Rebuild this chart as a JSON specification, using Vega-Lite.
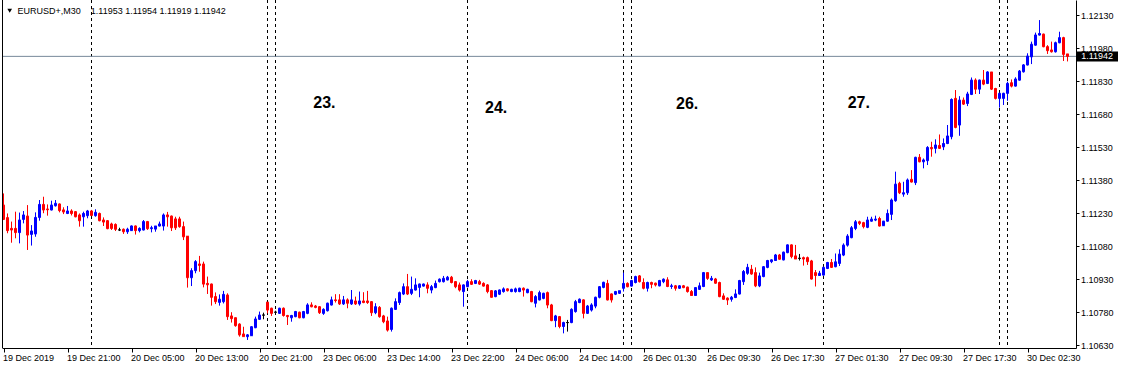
{
"$schema": "https://vega.github.io/schema/vega-lite/v6.json",
"width": 1074, "height": 348,
"autosize": {"type": "none"},
"padding": {"left": 2, "top": 0, "right": 46, "bottom": 21},
"background": "white",
"config": {"view": {"stroke": null}, "font": "Liberation Sans", "axis": {"labelOverlap": false, "labelFlush": false}},
"datasets": {
"one": [{}],
"bars": [
{"i":0,"o":1.11266,"h":1.11319,"l":1.11198,"c":1.11201},
{"i":1,"o":1.11209,"h":1.11228,"l":1.11138,"c":1.11150},
{"i":2,"o":1.11160,"h":1.11191,"l":1.11095,"c":1.11153},
{"i":3,"o":1.11160,"h":1.11236,"l":1.11115,"c":1.11141},
{"i":4,"o":1.11141,"h":1.11232,"l":1.11092,"c":1.11198},
{"i":5,"o":1.11201,"h":1.11239,"l":1.11183,"c":1.11221},
{"i":6,"o":1.11216,"h":1.11266,"l":1.11062,"c":1.11130},
{"i":7,"o":1.11133,"h":1.11175,"l":1.11082,"c":1.11148},
{"i":8,"o":1.11135,"h":1.11233,"l":1.11122,"c":1.11210},
{"i":9,"o":1.11210,"h":1.11289,"l":1.11195,"c":1.11269},
{"i":10,"o":1.11269,"h":1.11304,"l":1.11229,"c":1.11244},
{"i":11,"o":1.11248,"h":1.11269,"l":1.11218,"c":1.11245},
{"i":12,"o":1.11244,"h":1.11286,"l":1.11241,"c":1.11266},
{"i":13,"o":1.11263,"h":1.11289,"l":1.11259,"c":1.11274},
{"i":14,"o":1.11271,"h":1.11274,"l":1.11233,"c":1.11241},
{"i":15,"o":1.11244,"h":1.11256,"l":1.11225,"c":1.11235},
{"i":16,"o":1.11228,"h":1.11262,"l":1.11225,"c":1.11239},
{"i":17,"o":1.11239,"h":1.11247,"l":1.11219,"c":1.11228},
{"i":18,"o":1.11236,"h":1.11239,"l":1.11210,"c":1.11213},
{"i":19,"o":1.11221,"h":1.11228,"l":1.11168,"c":1.11195},
{"i":20,"o":1.11213,"h":1.11236,"l":1.11168,"c":1.11228},
{"i":21,"o":1.11218,"h":1.11244,"l":1.11206,"c":1.11239},
{"i":22,"o":1.11239,"h":1.11244,"l":1.11216,"c":1.11219},
{"i":23,"o":1.11218,"h":1.11247,"l":1.11213,"c":1.11233},
{"i":24,"o":1.11228,"h":1.11232,"l":1.11192,"c":1.11195},
{"i":25,"o":1.11198,"h":1.11210,"l":1.11171,"c":1.11189},
{"i":26,"o":1.11195,"h":1.11198,"l":1.11156,"c":1.11159},
{"i":27,"o":1.11180,"h":1.11186,"l":1.11153,"c":1.11160},
{"i":28,"o":1.11178,"h":1.11183,"l":1.11148,"c":1.11156},
{"i":29,"o":1.11153,"h":1.11163,"l":1.11148,"c":1.11153},
{"i":30,"o":1.11156,"h":1.11160,"l":1.11135,"c":1.11145},
{"i":31,"o":1.11145,"h":1.11163,"l":1.11135,"c":1.11156},
{"i":32,"o":1.11150,"h":1.11174,"l":1.11148,"c":1.11171},
{"i":33,"o":1.11171,"h":1.11174,"l":1.11132,"c":1.11150},
{"i":34,"o":1.11150,"h":1.11165,"l":1.11142,"c":1.11160},
{"i":35,"o":1.11153,"h":1.11198,"l":1.11150,"c":1.11191},
{"i":36,"o":1.11191,"h":1.11194,"l":1.11153,"c":1.11159},
{"i":37,"o":1.11159,"h":1.11172,"l":1.11142,"c":1.11163},
{"i":38,"o":1.11157,"h":1.11172,"l":1.11145,"c":1.11171},
{"i":39,"o":1.11171,"h":1.11191,"l":1.11168,"c":1.11180},
{"i":40,"o":1.11171,"h":1.11228,"l":1.11150,"c":1.11221},
{"i":41,"o":1.11221,"h":1.11235,"l":1.11168,"c":1.11213},
{"i":42,"o":1.11216,"h":1.11219,"l":1.11148,"c":1.11163},
{"i":43,"o":1.11203,"h":1.11213,"l":1.11153,"c":1.11163},
{"i":44,"o":1.11203,"h":1.11213,"l":1.11163,"c":1.11168},
{"i":45,"o":1.11168,"h":1.11191,"l":1.11107,"c":1.11122},
{"i":46,"o":1.11125,"h":1.11125,"l":1.10891,"c":1.10936},
{"i":47,"o":1.10936,"h":1.10979,"l":1.10898,"c":1.10968},
{"i":48,"o":1.10968,"h":1.11016,"l":1.10956,"c":1.11009},
{"i":49,"o":1.10998,"h":1.11035,"l":1.10963,"c":1.10992},
{"i":50,"o":1.10998,"h":1.11009,"l":1.10892,"c":1.10907},
{"i":51,"o":1.10910,"h":1.10941,"l":1.10862,"c":1.10904},
{"i":52,"o":1.10907,"h":1.10910,"l":1.10809,"c":1.10847},
{"i":53,"o":1.10850,"h":1.10869,"l":1.10816,"c":1.10827},
{"i":54,"o":1.10824,"h":1.10860,"l":1.10809,"c":1.10838},
{"i":55,"o":1.10827,"h":1.10876,"l":1.10819,"c":1.10860},
{"i":56,"o":1.10857,"h":1.10865,"l":1.10744,"c":1.10759},
{"i":57,"o":1.10762,"h":1.10779,"l":1.10732,"c":1.10750},
{"i":58,"o":1.10754,"h":1.10756,"l":1.10713,"c":1.10718},
{"i":59,"o":1.10725,"h":1.10729,"l":1.10668,"c":1.10676},
{"i":60,"o":1.10680,"h":1.10713,"l":1.10668,"c":1.10668},
{"i":61,"o":1.10668,"h":1.10680,"l":1.10653,"c":1.10676},
{"i":62,"o":1.10672,"h":1.10716,"l":1.10671,"c":1.10713},
{"i":63,"o":1.10709,"h":1.10759,"l":1.10706,"c":1.10748},
{"i":64,"o":1.10747,"h":1.10782,"l":1.10744,"c":1.10766},
{"i":65,"o":1.10766,"h":1.10777,"l":1.10747,"c":1.10766},
{"i":66,"o":1.10825,"h":1.10825,"l":1.10774,"c":1.10789},
{"i":67,"o":1.10797,"h":1.10800,"l":1.10762,"c":1.10774},
{"i":68,"o":1.10779,"h":1.10786,"l":1.10771,"c":1.10779},
{"i":69,"o":1.10774,"h":1.10800,"l":1.10771,"c":1.10797},
{"i":70,"o":1.10797,"h":1.10801,"l":1.10759,"c":1.10764},
{"i":71,"o":1.10764,"h":1.10767,"l":1.10721,"c":1.10759},
{"i":72,"o":1.10754,"h":1.10767,"l":1.10736,"c":1.10764},
{"i":73,"o":1.10759,"h":1.10785,"l":1.10756,"c":1.10782},
{"i":74,"o":1.10779,"h":1.10782,"l":1.10751,"c":1.10754},
{"i":75,"o":1.10754,"h":1.10785,"l":1.10751,"c":1.10782},
{"i":76,"o":1.10774,"h":1.10820,"l":1.10770,"c":1.10812},
{"i":77,"o":1.10812,"h":1.10824,"l":1.10801,"c":1.10804},
{"i":78,"o":1.10807,"h":1.10812,"l":1.10797,"c":1.10801},
{"i":79,"o":1.10804,"h":1.10807,"l":1.10771,"c":1.10777},
{"i":80,"o":1.10774,"h":1.10797,"l":1.10767,"c":1.10792},
{"i":81,"o":1.10786,"h":1.10823,"l":1.10782,"c":1.10820},
{"i":82,"o":1.10812,"h":1.10850,"l":1.10809,"c":1.10835},
{"i":83,"o":1.10835,"h":1.10861,"l":1.10823,"c":1.10832},
{"i":84,"o":1.10835,"h":1.10861,"l":1.10812,"c":1.10817},
{"i":85,"o":1.10817,"h":1.10853,"l":1.10812,"c":1.10835},
{"i":86,"o":1.10835,"h":1.10842,"l":1.10797,"c":1.10820},
{"i":87,"o":1.10817,"h":1.10880,"l":1.10812,"c":1.10835},
{"i":88,"o":1.10830,"h":1.10850,"l":1.10812,"c":1.10817},
{"i":89,"o":1.10817,"h":1.10873,"l":1.10809,"c":1.10830},
{"i":90,"o":1.10830,"h":1.10870,"l":1.10820,"c":1.10823},
{"i":91,"o":1.10830,"h":1.10876,"l":1.10817,"c":1.10823},
{"i":92,"o":1.10827,"h":1.10830,"l":1.10762,"c":1.10777},
{"i":93,"o":1.10777,"h":1.10820,"l":1.10770,"c":1.10804},
{"i":94,"o":1.10801,"h":1.10807,"l":1.10754,"c":1.10759},
{"i":95,"o":1.10762,"h":1.10767,"l":1.10729,"c":1.10736},
{"i":96,"o":1.10739,"h":1.10759,"l":1.10691,"c":1.10698},
{"i":97,"o":1.10701,"h":1.10801,"l":1.10691,"c":1.10797},
{"i":98,"o":1.10792,"h":1.10842,"l":1.10789,"c":1.10827},
{"i":99,"o":1.10823,"h":1.10873,"l":1.10812,"c":1.10868},
{"i":100,"o":1.10862,"h":1.10910,"l":1.10857,"c":1.10895},
{"i":101,"o":1.10895,"h":1.10953,"l":1.10857,"c":1.10862},
{"i":102,"o":1.10865,"h":1.10941,"l":1.10857,"c":1.10883},
{"i":103,"o":1.10880,"h":1.10933,"l":1.10877,"c":1.10903},
{"i":104,"o":1.10892,"h":1.10910,"l":1.10847,"c":1.10907},
{"i":105,"o":1.10898,"h":1.10910,"l":1.10895,"c":1.10907},
{"i":106,"o":1.10903,"h":1.10915,"l":1.10865,"c":1.10888},
{"i":107,"o":1.10880,"h":1.10903,"l":1.10865,"c":1.10895},
{"i":108,"o":1.10891,"h":1.10923,"l":1.10888,"c":1.10910},
{"i":109,"o":1.10918,"h":1.10933,"l":1.10914,"c":1.10929},
{"i":110,"o":1.10918,"h":1.10944,"l":1.10914,"c":1.10933},
{"i":111,"o":1.10926,"h":1.10944,"l":1.10923,"c":1.10938},
{"i":112,"o":1.10938,"h":1.10944,"l":1.10910,"c":1.10914},
{"i":113,"o":1.10918,"h":1.10921,"l":1.10888,"c":1.10895},
{"i":114,"o":1.10903,"h":1.10914,"l":1.10873,"c":1.10880},
{"i":115,"o":1.10873,"h":1.10906,"l":1.10804,"c":1.10903},
{"i":116,"o":1.10895,"h":1.10926,"l":1.10892,"c":1.10918},
{"i":117,"o":1.10918,"h":1.10929,"l":1.10903,"c":1.10906},
{"i":118,"o":1.10910,"h":1.10926,"l":1.10907,"c":1.10923},
{"i":119,"o":1.10918,"h":1.10926,"l":1.10903,"c":1.10907},
{"i":120,"o":1.10910,"h":1.10915,"l":1.10895,"c":1.10898},
{"i":121,"o":1.10903,"h":1.10907,"l":1.10865,"c":1.10873},
{"i":122,"o":1.10877,"h":1.10880,"l":1.10845,"c":1.10847},
{"i":123,"o":1.10850,"h":1.10880,"l":1.10847,"c":1.10876},
{"i":124,"o":1.10861,"h":1.10883,"l":1.10857,"c":1.10880},
{"i":125,"o":1.10873,"h":1.10892,"l":1.10868,"c":1.10885},
{"i":126,"o":1.10885,"h":1.10888,"l":1.10873,"c":1.10877},
{"i":127,"o":1.10873,"h":1.10886,"l":1.10870,"c":1.10883},
{"i":128,"o":1.10873,"h":1.10891,"l":1.10868,"c":1.10885},
{"i":129,"o":1.10873,"h":1.10891,"l":1.10870,"c":1.10888},
{"i":130,"o":1.10888,"h":1.10892,"l":1.10850,"c":1.10880},
{"i":131,"o":1.10868,"h":1.10886,"l":1.10865,"c":1.10883},
{"i":132,"o":1.10873,"h":1.10876,"l":1.10824,"c":1.10827},
{"i":133,"o":1.10820,"h":1.10857,"l":1.10801,"c":1.10850},
{"i":134,"o":1.10835,"h":1.10877,"l":1.10832,"c":1.10868},
{"i":135,"o":1.10842,"h":1.10868,"l":1.10838,"c":1.10865},
{"i":136,"o":1.10868,"h":1.10873,"l":1.10797,"c":1.10812},
{"i":137,"o":1.10812,"h":1.10817,"l":1.10738,"c":1.10741},
{"i":138,"o":1.10741,"h":1.10767,"l":1.10711,"c":1.10762},
{"i":139,"o":1.10759,"h":1.10762,"l":1.10706,"c":1.10714},
{"i":140,"o":1.10714,"h":1.10736,"l":1.10683,"c":1.10732},
{"i":141,"o":1.10732,"h":1.10744,"l":1.10691,"c":1.10732},
{"i":142,"o":1.10732,"h":1.10797,"l":1.10729,"c":1.10792},
{"i":143,"o":1.10782,"h":1.10835,"l":1.10777,"c":1.10827},
{"i":144,"o":1.10823,"h":1.10842,"l":1.10820,"c":1.10838},
{"i":145,"o":1.10835,"h":1.10838,"l":1.10751,"c":1.10774},
{"i":146,"o":1.10774,"h":1.10812,"l":1.10771,"c":1.10807},
{"i":147,"o":1.10789,"h":1.10820,"l":1.10782,"c":1.10812},
{"i":148,"o":1.10807,"h":1.10850,"l":1.10797,"c":1.10847},
{"i":149,"o":1.10847,"h":1.10898,"l":1.10842,"c":1.10895},
{"i":150,"o":1.10892,"h":1.10918,"l":1.10888,"c":1.10915},
{"i":151,"o":1.10910,"h":1.10926,"l":1.10832,"c":1.10835},
{"i":152,"o":1.10862,"h":1.10865,"l":1.10823,"c":1.10835},
{"i":153,"o":1.10861,"h":1.10876,"l":1.10857,"c":1.10873},
{"i":154,"o":1.10865,"h":1.10877,"l":1.10862,"c":1.10877},
{"i":155,"o":1.10888,"h":1.10959,"l":1.10873,"c":1.10910},
{"i":156,"o":1.10910,"h":1.10915,"l":1.10892,"c":1.10895},
{"i":157,"o":1.10898,"h":1.10926,"l":1.10895,"c":1.10923},
{"i":158,"o":1.10914,"h":1.10945,"l":1.10910,"c":1.10941},
{"i":159,"o":1.10944,"h":1.10948,"l":1.10914,"c":1.10918},
{"i":160,"o":1.10914,"h":1.10933,"l":1.10883,"c":1.10888},
{"i":161,"o":1.10888,"h":1.10918,"l":1.10873,"c":1.10914},
{"i":162,"o":1.10914,"h":1.10918,"l":1.10888,"c":1.10906},
{"i":163,"o":1.10911,"h":1.10914,"l":1.10896,"c":1.10903},
{"i":164,"o":1.10899,"h":1.10926,"l":1.10896,"c":1.10923},
{"i":165,"o":1.10918,"h":1.10933,"l":1.10911,"c":1.10929},
{"i":166,"o":1.10926,"h":1.10938,"l":1.10893,"c":1.10896},
{"i":167,"o":1.10896,"h":1.10908,"l":1.10885,"c":1.10899},
{"i":168,"o":1.10899,"h":1.10903,"l":1.10877,"c":1.10888},
{"i":169,"o":1.10888,"h":1.10902,"l":1.10885,"c":1.10899},
{"i":170,"o":1.10899,"h":1.10903,"l":1.10888,"c":1.10891},
{"i":171,"o":1.10893,"h":1.10896,"l":1.10868,"c":1.10873},
{"i":172,"o":1.10873,"h":1.10880,"l":1.10853,"c":1.10855},
{"i":173,"o":1.10855,"h":1.10893,"l":1.10853,"c":1.10891},
{"i":174,"o":1.10883,"h":1.10914,"l":1.10880,"c":1.10899},
{"i":175,"o":1.10896,"h":1.10962,"l":1.10893,"c":1.10959},
{"i":176,"o":1.10959,"h":1.10961,"l":1.10926,"c":1.10933},
{"i":177,"o":1.10926,"h":1.10944,"l":1.10921,"c":1.10933},
{"i":178,"o":1.10930,"h":1.10935,"l":1.10908,"c":1.10911},
{"i":179,"o":1.10914,"h":1.10918,"l":1.10847,"c":1.10850},
{"i":180,"o":1.10853,"h":1.10865,"l":1.10835,"c":1.10838},
{"i":181,"o":1.10843,"h":1.10847,"l":1.10812,"c":1.10835},
{"i":182,"o":1.10838,"h":1.10853,"l":1.10827,"c":1.10847},
{"i":183,"o":1.10846,"h":1.10883,"l":1.10843,"c":1.10862},
{"i":184,"o":1.10862,"h":1.10926,"l":1.10859,"c":1.10923},
{"i":185,"o":1.10918,"h":1.10971,"l":1.10903,"c":1.10964},
{"i":186,"o":1.10956,"h":1.10999,"l":1.10949,"c":1.10983},
{"i":187,"o":1.10974,"h":1.10994,"l":1.10949,"c":1.10953},
{"i":188,"o":1.10959,"h":1.10983,"l":1.10893,"c":1.10899},
{"i":189,"o":1.10899,"h":1.10959,"l":1.10893,"c":1.10944},
{"i":190,"o":1.10941,"h":1.10989,"l":1.10938,"c":1.10986},
{"i":191,"o":1.10983,"h":1.11017,"l":1.10979,"c":1.11014},
{"i":192,"o":1.11009,"h":1.11020,"l":1.11002,"c":1.11017},
{"i":193,"o":1.11014,"h":1.11044,"l":1.11012,"c":1.11039},
{"i":194,"o":1.11039,"h":1.11044,"l":1.11017,"c":1.11020},
{"i":195,"o":1.11017,"h":1.11055,"l":1.11014,"c":1.11052},
{"i":196,"o":1.11050,"h":1.11088,"l":1.11047,"c":1.11085},
{"i":197,"o":1.11085,"h":1.11088,"l":1.11024,"c":1.11032},
{"i":198,"o":1.11035,"h":1.11085,"l":1.11020,"c":1.11021},
{"i":199,"o":1.11024,"h":1.11044,"l":1.11014,"c":1.11024},
{"i":200,"o":1.11027,"h":1.11032,"l":1.10991,"c":1.11021},
{"i":201,"o":1.11027,"h":1.11032,"l":1.10994,"c":1.11009},
{"i":202,"o":1.11012,"h":1.11017,"l":1.10927,"c":1.10930},
{"i":203,"o":1.10959,"h":1.10971,"l":1.10896,"c":1.10946},
{"i":204,"o":1.10946,"h":1.10967,"l":1.10944,"c":1.10956},
{"i":205,"o":1.10948,"h":1.10986,"l":1.10945,"c":1.10983},
{"i":206,"o":1.10978,"h":1.11008,"l":1.10975,"c":1.11005},
{"i":207,"o":1.11005,"h":1.11021,"l":1.10980,"c":1.10983},
{"i":208,"o":1.10986,"h":1.11046,"l":1.10983,"c":1.11008},
{"i":209,"o":1.11001,"h":1.11065,"l":1.10989,"c":1.11043},
{"i":210,"o":1.11039,"h":1.11092,"l":1.11034,"c":1.11084},
{"i":211,"o":1.11084,"h":1.11134,"l":1.11077,"c":1.11125},
{"i":212,"o":1.11118,"h":1.11171,"l":1.11115,"c":1.11163},
{"i":213,"o":1.11160,"h":1.11198,"l":1.11152,"c":1.11190},
{"i":214,"o":1.11190,"h":1.11195,"l":1.11175,"c":1.11183},
{"i":215,"o":1.11186,"h":1.11190,"l":1.11160,"c":1.11168},
{"i":216,"o":1.11165,"h":1.11213,"l":1.11161,"c":1.11198},
{"i":217,"o":1.11193,"h":1.11213,"l":1.11190,"c":1.11202},
{"i":218,"o":1.11198,"h":1.11218,"l":1.11193,"c":1.11202},
{"i":219,"o":1.11205,"h":1.11213,"l":1.11168,"c":1.11171},
{"i":220,"o":1.11172,"h":1.11195,"l":1.11171,"c":1.11193},
{"i":221,"o":1.11193,"h":1.11246,"l":1.11190,"c":1.11228},
{"i":222,"o":1.11224,"h":1.11296,"l":1.11198,"c":1.11289},
{"i":223,"o":1.11286,"h":1.11418,"l":1.11281,"c":1.11361},
{"i":224,"o":1.11365,"h":1.11372,"l":1.11316,"c":1.11322},
{"i":225,"o":1.11316,"h":1.11372,"l":1.11304,"c":1.11322},
{"i":226,"o":1.11322,"h":1.11387,"l":1.11312,"c":1.11380},
{"i":227,"o":1.11383,"h":1.11425,"l":1.11368,"c":1.11371},
{"i":228,"o":1.11368,"h":1.11486,"l":1.11357,"c":1.11483},
{"i":229,"o":1.11483,"h":1.11498,"l":1.11460,"c":1.11463},
{"i":230,"o":1.11463,"h":1.11478,"l":1.11433,"c":1.11471},
{"i":231,"o":1.11468,"h":1.11534,"l":1.11448,"c":1.11528},
{"i":232,"o":1.11528,"h":1.11554,"l":1.11486,"c":1.11522},
{"i":233,"o":1.11524,"h":1.11565,"l":1.11501,"c":1.11539},
{"i":234,"o":1.11537,"h":1.11587,"l":1.11521,"c":1.11524},
{"i":235,"o":1.11531,"h":1.11569,"l":1.11516,"c":1.11546},
{"i":236,"o":1.11546,"h":1.11630,"l":1.11543,"c":1.11580},
{"i":237,"o":1.11577,"h":1.11751,"l":1.11565,"c":1.11746},
{"i":238,"o":1.11751,"h":1.11789,"l":1.11615,"c":1.11619},
{"i":239,"o":1.11630,"h":1.11761,"l":1.11581,"c":1.11743},
{"i":240,"o":1.11743,"h":1.11755,"l":1.11721,"c":1.11725},
{"i":241,"o":1.11728,"h":1.11781,"l":1.11716,"c":1.11771},
{"i":242,"o":1.11769,"h":1.11846,"l":1.11766,"c":1.11834},
{"i":243,"o":1.11834,"h":1.11842,"l":1.11771,"c":1.11793},
{"i":244,"o":1.11793,"h":1.11837,"l":1.11771,"c":1.11834},
{"i":245,"o":1.11834,"h":1.11880,"l":1.11811,"c":1.11816},
{"i":246,"o":1.11819,"h":1.11875,"l":1.11816,"c":1.11871},
{"i":247,"o":1.11871,"h":1.11872,"l":1.11789,"c":1.11793},
{"i":248,"o":1.11796,"h":1.11799,"l":1.11746,"c":1.11751},
{"i":249,"o":1.11751,"h":1.11777,"l":1.11709,"c":1.11774},
{"i":250,"o":1.11751,"h":1.11777,"l":1.11721,"c":1.11774},
{"i":251,"o":1.11774,"h":1.11827,"l":1.11740,"c":1.11819},
{"i":252,"o":1.11822,"h":1.11837,"l":1.11801,"c":1.11807},
{"i":253,"o":1.11807,"h":1.11847,"l":1.11804,"c":1.11839},
{"i":254,"o":1.11834,"h":1.11880,"l":1.11831,"c":1.11875},
{"i":255,"o":1.11872,"h":1.11907,"l":1.11868,"c":1.11903},
{"i":256,"o":1.11903,"h":1.11956,"l":1.11900,"c":1.11943},
{"i":257,"o":1.11940,"h":1.12009,"l":1.11907,"c":1.11997},
{"i":258,"o":1.11993,"h":1.12050,"l":1.11990,"c":1.12039},
{"i":259,"o":1.12039,"h":1.12107,"l":1.12036,"c":1.12046},
{"i":260,"o":1.12043,"h":1.12046,"l":1.11983,"c":1.11986},
{"i":261,"o":1.11986,"h":1.11993,"l":1.11953,"c":1.11968},
{"i":262,"o":1.11971,"h":1.12009,"l":1.11959,"c":1.11963},
{"i":263,"o":1.11963,"h":1.12009,"l":1.11959,"c":1.12004},
{"i":264,"o":1.12004,"h":1.12054,"l":1.12001,"c":1.12027},
{"i":265,"o":1.12027,"h":1.12031,"l":1.11921,"c":1.11951},
{"i":266,"o":1.11953,"h":1.11954,"l":1.11919,"c":1.11942}
],
"seps": [{"i":22},{"i":66},{"i":68},{"i":116},{"i":155},{"i":157},{"i":205},{"i":249},{"i":251}],
"notes": [
{"t":"23.","i":77.45,"p":1.117291},
{"t":"24.","i":120.375,"p":1.117086},
{"t":"26.","i":168.125,"p":1.117246},
{"t":"27.","i":211.05,"p":1.117300}
]
},
"layer": [
{
"data": {"name": "seps"},
"mark": {"type": "rule", "color": "black", "strokeDash": [3, 3], "strokeWidth": 1},
"encoding": {
"x": {"field": "i", "type": "quantitative",
"scale": {"domain": [-0.375, 268.125], "nice": false, "zero": false, "padding": 0},
"axis": {"title": null, "grid": false, "tickCount": 40, "values": [0,16,32,48,64,80,96,112,128,144,160,176,192,208,224,240,256],
"labelExpr": "['19 Dec 2019','19 Dec 21:00','20 Dec 05:00','20 Dec 13:00','20 Dec 21:00','23 Dec 06:00','23 Dec 14:00','23 Dec 22:00','24 Dec 06:00','24 Dec 14:00','26 Dec 01:30','26 Dec 09:30','26 Dec 17:30','27 Dec 01:30','27 Dec 09:30','27 Dec 17:30','30 Dec 02:30'][round(datum.value/16)]",
"labelAlign": "left", "labelFlush": false, "labelOverlap": false, "labelBaseline": "top",
"labelFont": "Liberation Sans", "labelFontSize": 9, "labelColor": "black",
"tickSize": 4, "tickColor": "black", "domainColor": "black", "labelPadding": 1, "labelOffset": -1}}
}
},
{
"data": {"name": "one"},
"mark": {"type": "rule", "color": "#778899", "strokeWidth": 1},
"encoding": {"y": {"datum": 1.11942, "type": "quantitative",
"scale": {"domain": [1.106164, 1.121982], "nice": false, "zero": false, "padding": 0},
"axis": {"orient": "right", "title": null, "grid": false, "tickCount": 30,
"values": [1.1063,1.1078,1.1093,1.1108,1.1123,1.1138,1.1153,1.1168,1.1183,1.1198,1.1213],
"format": ".5f", "labelFont": "Liberation Sans", "labelFontSize": 9, "labelColor": "black", "labelOverlap": false,
"tickSize": 3, "tickColor": "black", "domainColor": "black", "labelPadding": 1.5}}}
},
{
"data": {"name": "bars"},
"layer": [
{
"mark": {"type": "rule", "strokeWidth": 1},
"encoding": {
"x": {"field": "i", "type": "quantitative"},
"y": {"field": "l", "type": "quantitative"},
"y2": {"field": "h"},
"color": {"condition": [{"test": "datum.c > datum.o", "value": "#0000ff"}, {"test": "datum.c < datum.o", "value": "#ff0000"}], "value": "#000000"}
}
},
{
"mark": {"type": "bar", "size": 3},
"encoding": {
"x": {"field": "i", "type": "quantitative"},
"y": {"field": "o", "type": "quantitative"},
"y2": {"field": "c"},
"color": {"condition": [{"test": "datum.c > datum.o", "value": "#0000ff"}, {"test": "datum.c < datum.o", "value": "#ff0000"}], "value": "#000000"}
}
},
{
"mark": {"type": "tick", "orient": "horizontal", "size": 3, "thickness": 1},
"encoding": {
"x": {"field": "i", "type": "quantitative"},
"y": {"field": "o", "type": "quantitative"},
"color": {"condition": [{"test": "datum.c > datum.o", "value": "#0000ff"}, {"test": "datum.c < datum.o", "value": "#ff0000"}], "value": "#000000"}
}
},
{
"mark": {"type": "tick", "orient": "horizontal", "size": 3, "thickness": 1},
"encoding": {
"x": {"field": "i", "type": "quantitative"},
"y": {"field": "c", "type": "quantitative"},
"color": {"condition": [{"test": "datum.c > datum.o", "value": "#0000ff"}, {"test": "datum.c < datum.o", "value": "#ff0000"}], "value": "#000000"}
}
}
]
},
{
"data": {"name": "one"},
"mark": {"type": "rule", "color": "black", "strokeWidth": 1},
"encoding": {"x": {"datum": -0.25, "type": "quantitative"}}
},
{
"data": {"name": "notes"},
"mark": {"type": "text", "align": "left", "baseline": "middle", "font": "Liberation Sans", "fontSize": 16, "fontWeight": "bold", "color": "black"},
"encoding": {
"x": {"field": "i", "type": "quantitative"},
"y": {"field": "p", "type": "quantitative"},
"text": {"field": "t"}
}
},
{
"data": {"name": "one"},
"mark": {"type": "point", "shape": "triangle-down", "filled": true, "color": "black", "size": 22, "opacity": 1},
"encoding": {"x": {"datum": 1.55, "type": "quantitative"}, "y": {"datum": 1.121496, "type": "quantitative"}}
},
{
"data": {"name": "one"},
"mark": {"type": "text", "align": "left", "baseline": "middle", "font": "Liberation Sans", "fontSize": 9, "color": "black"},
"encoding": {"x": {"datum": 3.525, "type": "quantitative"}, "y": {"datum": 1.121473, "type": "quantitative"}, "text": {"value": "EURUSD+,M30"}}
},
{
"data": {"name": "one"},
"mark": {"type": "text", "align": "left", "baseline": "middle", "font": "Liberation Sans", "fontSize": 9, "color": "black"},
"encoding": {"x": {"datum": 21.83, "type": "quantitative"}, "y": {"datum": 1.121473, "type": "quantitative"}, "text": {"value": "1.11953 1.11954 1.11919 1.11942"}}
},
{
"data": {"name": "one"},
"mark": {"type": "rect", "color": "black"},
"encoding": {"x": {"datum": 268.375, "type": "quantitative"}, "x2": {"datum": 278.625}, "y": {"datum": 1.119641, "type": "quantitative"}, "y2": {"datum": 1.119186}}
},
{
"data": {"name": "one"},
"mark": {"type": "text", "align": "left", "baseline": "middle", "font": "Liberation Sans", "fontSize": 9, "color": "white"},
"encoding": {"x": {"datum": 269.425, "type": "quantitative"}, "y": {"datum": 1.11942, "type": "quantitative"}, "text": {"value": "1.11942"}}
}
]
}
